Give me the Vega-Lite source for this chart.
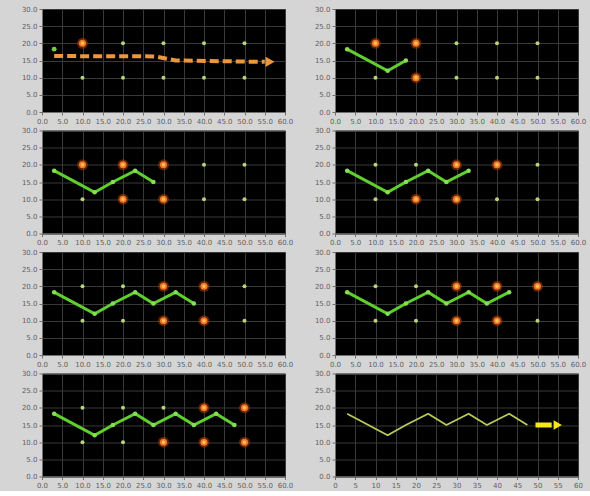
{
  "$schema": "https://vega.github.io/schema/vega-lite/v6.json",
  "background": "#d5d5d5",
  "padding": {"left": 20, "top": 4, "right": 8, "bottom": 2},
  "config": {
    "view": {"fill": "#000000", "stroke": "#8a8a8a", "strokeWidth": 1},
    "axis": {"title": null, "labelFontSize": 7, "labelFont": "DejaVu Sans", "labelColor": "#5f5f5f", "tickColor": "#707070", "tickSize": 3, "labelPadding": 2, "domainColor": "#707070", "gridColor": "#393939", "gridWidth": 1, "labelFlush": false, "labelOverlap": false}
  },
  "data": {"values": [
    {"p":1,"k":"dot","x":10,"y":20,"s":"o"},{"p":1,"k":"dot","x":10,"y":10,"s":"g"},{"p":1,"k":"dot","x":20,"y":20,"s":"g"},{"p":1,"k":"dot","x":20,"y":10,"s":"g"},{"p":1,"k":"dot","x":30,"y":20,"s":"g"},{"p":1,"k":"dot","x":30,"y":10,"s":"g"},{"p":1,"k":"dot","x":40,"y":20,"s":"g"},{"p":1,"k":"dot","x":40,"y":10,"s":"g"},{"p":1,"k":"dot","x":50,"y":20,"s":"g"},{"p":1,"k":"dot","x":50,"y":10,"s":"g"},
    {"p":2,"k":"dot","x":10,"y":20,"s":"o"},{"p":2,"k":"dot","x":10,"y":10,"s":"g"},{"p":2,"k":"dot","x":20,"y":20,"s":"o"},{"p":2,"k":"dot","x":20,"y":10,"s":"o"},{"p":2,"k":"dot","x":30,"y":20,"s":"g"},{"p":2,"k":"dot","x":30,"y":10,"s":"g"},{"p":2,"k":"dot","x":40,"y":20,"s":"g"},{"p":2,"k":"dot","x":40,"y":10,"s":"g"},{"p":2,"k":"dot","x":50,"y":20,"s":"g"},{"p":2,"k":"dot","x":50,"y":10,"s":"g"},
    {"p":3,"k":"dot","x":10,"y":20,"s":"o"},{"p":3,"k":"dot","x":10,"y":10,"s":"g"},{"p":3,"k":"dot","x":20,"y":20,"s":"o"},{"p":3,"k":"dot","x":20,"y":10,"s":"o"},{"p":3,"k":"dot","x":30,"y":20,"s":"o"},{"p":3,"k":"dot","x":30,"y":10,"s":"o"},{"p":3,"k":"dot","x":40,"y":20,"s":"g"},{"p":3,"k":"dot","x":40,"y":10,"s":"g"},{"p":3,"k":"dot","x":50,"y":20,"s":"g"},{"p":3,"k":"dot","x":50,"y":10,"s":"g"},
    {"p":4,"k":"dot","x":10,"y":20,"s":"g"},{"p":4,"k":"dot","x":10,"y":10,"s":"g"},{"p":4,"k":"dot","x":20,"y":20,"s":"g"},{"p":4,"k":"dot","x":20,"y":10,"s":"o"},{"p":4,"k":"dot","x":30,"y":20,"s":"o"},{"p":4,"k":"dot","x":30,"y":10,"s":"o"},{"p":4,"k":"dot","x":40,"y":20,"s":"o"},{"p":4,"k":"dot","x":40,"y":10,"s":"g"},{"p":4,"k":"dot","x":50,"y":20,"s":"g"},{"p":4,"k":"dot","x":50,"y":10,"s":"g"},
    {"p":5,"k":"dot","x":10,"y":20,"s":"g"},{"p":5,"k":"dot","x":10,"y":10,"s":"g"},{"p":5,"k":"dot","x":20,"y":20,"s":"g"},{"p":5,"k":"dot","x":20,"y":10,"s":"g"},{"p":5,"k":"dot","x":30,"y":20,"s":"o"},{"p":5,"k":"dot","x":30,"y":10,"s":"o"},{"p":5,"k":"dot","x":40,"y":20,"s":"o"},{"p":5,"k":"dot","x":40,"y":10,"s":"o"},{"p":5,"k":"dot","x":50,"y":20,"s":"g"},{"p":5,"k":"dot","x":50,"y":10,"s":"g"},
    {"p":6,"k":"dot","x":10,"y":20,"s":"g"},{"p":6,"k":"dot","x":10,"y":10,"s":"g"},{"p":6,"k":"dot","x":20,"y":20,"s":"g"},{"p":6,"k":"dot","x":20,"y":10,"s":"g"},{"p":6,"k":"dot","x":30,"y":20,"s":"o"},{"p":6,"k":"dot","x":30,"y":10,"s":"o"},{"p":6,"k":"dot","x":40,"y":20,"s":"o"},{"p":6,"k":"dot","x":40,"y":10,"s":"o"},{"p":6,"k":"dot","x":50,"y":20,"s":"o"},{"p":6,"k":"dot","x":50,"y":10,"s":"g"},
    {"p":7,"k":"dot","x":10,"y":20,"s":"g"},{"p":7,"k":"dot","x":10,"y":10,"s":"g"},{"p":7,"k":"dot","x":20,"y":20,"s":"g"},{"p":7,"k":"dot","x":20,"y":10,"s":"g"},{"p":7,"k":"dot","x":30,"y":20,"s":"g"},{"p":7,"k":"dot","x":30,"y":10,"s":"o"},{"p":7,"k":"dot","x":40,"y":20,"s":"o"},{"p":7,"k":"dot","x":40,"y":10,"s":"o"},{"p":7,"k":"dot","x":50,"y":20,"s":"o"},{"p":7,"k":"dot","x":50,"y":10,"s":"o"},
    {"p":1,"k":"path","i":1,"x":3,"y":18.3},
    {"p":1,"k":"arrow","i":1,"x":3,"y":16.3},{"p":1,"k":"arrow","i":2,"x":28,"y":16.2},{"p":1,"k":"arrow","i":3,"x":33,"y":15},{"p":1,"k":"arrow","i":4,"x":55,"y":14.6},
    {"p":1,"k":"tip","x":56.3,"y":14.6},
    {"p":2,"k":"path","i":1,"x":3,"y":18.3},{"p":2,"k":"path","i":2,"x":13,"y":12},{"p":2,"k":"path","i":3,"x":17.5,"y":15},
    {"p":3,"k":"path","i":1,"x":3,"y":18.3},{"p":3,"k":"path","i":2,"x":13,"y":12},{"p":3,"k":"path","i":3,"x":17.5,"y":15},{"p":3,"k":"path","i":4,"x":23,"y":18.3},{"p":3,"k":"path","i":5,"x":27.5,"y":15},
    {"p":4,"k":"path","i":1,"x":3,"y":18.3},{"p":4,"k":"path","i":2,"x":13,"y":12},{"p":4,"k":"path","i":3,"x":17.5,"y":15},{"p":4,"k":"path","i":4,"x":23,"y":18.3},{"p":4,"k":"path","i":5,"x":27.5,"y":15},{"p":4,"k":"path","i":6,"x":33,"y":18.3},
    {"p":5,"k":"path","i":1,"x":3,"y":18.3},{"p":5,"k":"path","i":2,"x":13,"y":12},{"p":5,"k":"path","i":3,"x":17.5,"y":15},{"p":5,"k":"path","i":4,"x":23,"y":18.3},{"p":5,"k":"path","i":5,"x":27.5,"y":15},{"p":5,"k":"path","i":6,"x":33,"y":18.3},{"p":5,"k":"path","i":7,"x":37.5,"y":15},
    {"p":6,"k":"path","i":1,"x":3,"y":18.3},{"p":6,"k":"path","i":2,"x":13,"y":12},{"p":6,"k":"path","i":3,"x":17.5,"y":15},{"p":6,"k":"path","i":4,"x":23,"y":18.3},{"p":6,"k":"path","i":5,"x":27.5,"y":15},{"p":6,"k":"path","i":6,"x":33,"y":18.3},{"p":6,"k":"path","i":7,"x":37.5,"y":15},{"p":6,"k":"path","i":8,"x":43,"y":18.3},
    {"p":7,"k":"path","i":1,"x":3,"y":18.3},{"p":7,"k":"path","i":2,"x":13,"y":12},{"p":7,"k":"path","i":3,"x":17.5,"y":15},{"p":7,"k":"path","i":4,"x":23,"y":18.3},{"p":7,"k":"path","i":5,"x":27.5,"y":15},{"p":7,"k":"path","i":6,"x":33,"y":18.3},{"p":7,"k":"path","i":7,"x":37.5,"y":15},{"p":7,"k":"path","i":8,"x":43,"y":18.3},{"p":7,"k":"path","i":9,"x":47.5,"y":15},
    {"p":8,"k":"path","i":1,"x":3,"y":18.3},{"p":8,"k":"path","i":2,"x":13,"y":12},{"p":8,"k":"path","i":3,"x":17.5,"y":15},{"p":8,"k":"path","i":4,"x":23,"y":18.3},{"p":8,"k":"path","i":5,"x":27.5,"y":15},{"p":8,"k":"path","i":6,"x":33,"y":18.3},{"p":8,"k":"path","i":7,"x":37.5,"y":15},{"p":8,"k":"path","i":8,"x":43,"y":18.3},{"p":8,"k":"path","i":9,"x":47.5,"y":15},
    {"p":8,"k":"yarrow","i":1,"x":49.5,"y":15},{"p":8,"k":"yarrow","i":2,"x":53.5,"y":15},
    {"p":8,"k":"ytip","x":55,"y":15}
  ]},
  "columns": 2,
  "spacing": {"row": 0.5, "column": 19},
  "concat": [
    {"width": 243, "height": 103, "transform": [{"filter": "datum.p==1"}],
     "encoding": {"x": {"field": "x", "type": "quantitative", "scale": {"domain": [0, 60], "nice": false}, "axis": {"values": [0,5,10,15,20,25,30,35,40,45,50,55,60], "format": ".1f"}},
                  "y": {"field": "y", "type": "quantitative", "scale": {"domain": [0, 30], "nice": false}, "axis": {"values": [0,5,10,15,20,25,30], "format": ".1f"}}},
     "layer": [
       {"transform": [{"filter": "datum.k=='dot' && datum.s=='o'"}], "mark": {"type": "circle", "size": 120, "color": "#c0400c", "opacity": 0.5}},
       {"transform": [{"filter": "datum.k=='dot'"}], "mark": {"type": "circle", "opacity": 1}, "encoding": {"color": {"field": "s", "type": "nominal", "scale": {"domain": ["g", "o"], "range": ["#b7d47c", "#f07a22"]}, "legend": null}, "size": {"field": "s", "type": "ordinal", "scale": {"domain": ["g", "o"], "range": [16, 50]}, "legend": null}}},
       {"transform": [{"filter": "datum.k=='dot' && datum.s=='o'"}], "mark": {"type": "circle", "size": 12, "color": "#ffc060", "opacity": 1}},
       {"transform": [{"filter": "datum.k=='path'"}], "mark": {"type": "circle", "size": 24, "color": "#6fd03e", "opacity": 1}},
       {"transform": [{"filter": "datum.k=='arrow'"}], "mark": {"type": "line", "color": "#ec963e", "strokeWidth": 4, "strokeDash": [9, 4]}, "encoding": {"order": {"field": "i"}}},
       {"transform": [{"filter": "datum.k=='tip'"}], "mark": {"type": "point", "shape": "triangle-right", "filled": true, "size": 110, "color": "#ec963e", "opacity": 1}}
     ]},
    {"width": 243, "height": 103, "transform": [{"filter": "datum.p==2"}],
     "encoding": {"x": {"field": "x", "type": "quantitative", "scale": {"domain": [0, 60], "nice": false}, "axis": {"values": [0,5,10,15,20,25,30,35,40,45,50,55,60], "format": ".1f"}},
                  "y": {"field": "y", "type": "quantitative", "scale": {"domain": [0, 30], "nice": false}, "axis": {"values": [0,5,10,15,20,25,30], "format": ".1f"}}},
     "layer": [
       {"transform": [{"filter": "datum.k=='dot' && datum.s=='o'"}], "mark": {"type": "circle", "size": 120, "color": "#c0400c", "opacity": 0.5}},
       {"transform": [{"filter": "datum.k=='dot'"}], "mark": {"type": "circle", "opacity": 1}, "encoding": {"color": {"field": "s", "type": "nominal", "scale": {"domain": ["g", "o"], "range": ["#b7d47c", "#f07a22"]}, "legend": null}, "size": {"field": "s", "type": "ordinal", "scale": {"domain": ["g", "o"], "range": [16, 50]}, "legend": null}}},
       {"transform": [{"filter": "datum.k=='dot' && datum.s=='o'"}], "mark": {"type": "circle", "size": 12, "color": "#ffc060", "opacity": 1}},
       {"transform": [{"filter": "datum.k=='path'"}], "mark": {"type": "line", "color": "#5fcf2e", "strokeWidth": 3}, "encoding": {"order": {"field": "i"}}},
       {"transform": [{"filter": "datum.k=='path'"}], "mark": {"type": "circle", "size": 20, "color": "#86e056", "opacity": 1}}
     ]},
    {"width": 243, "height": 103, "transform": [{"filter": "datum.p==3"}],
     "encoding": {"x": {"field": "x", "type": "quantitative", "scale": {"domain": [0, 60], "nice": false}, "axis": {"values": [0,5,10,15,20,25,30,35,40,45,50,55,60], "format": ".1f"}},
                  "y": {"field": "y", "type": "quantitative", "scale": {"domain": [0, 30], "nice": false}, "axis": {"values": [0,5,10,15,20,25,30], "format": ".1f"}}},
     "layer": [
       {"transform": [{"filter": "datum.k=='dot' && datum.s=='o'"}], "mark": {"type": "circle", "size": 120, "color": "#c0400c", "opacity": 0.5}},
       {"transform": [{"filter": "datum.k=='dot'"}], "mark": {"type": "circle", "opacity": 1}, "encoding": {"color": {"field": "s", "type": "nominal", "scale": {"domain": ["g", "o"], "range": ["#b7d47c", "#f07a22"]}, "legend": null}, "size": {"field": "s", "type": "ordinal", "scale": {"domain": ["g", "o"], "range": [16, 50]}, "legend": null}}},
       {"transform": [{"filter": "datum.k=='dot' && datum.s=='o'"}], "mark": {"type": "circle", "size": 12, "color": "#ffc060", "opacity": 1}},
       {"transform": [{"filter": "datum.k=='path'"}], "mark": {"type": "line", "color": "#5fcf2e", "strokeWidth": 3}, "encoding": {"order": {"field": "i"}}},
       {"transform": [{"filter": "datum.k=='path'"}], "mark": {"type": "circle", "size": 20, "color": "#86e056", "opacity": 1}}
     ]},
    {"width": 243, "height": 103, "transform": [{"filter": "datum.p==4"}],
     "encoding": {"x": {"field": "x", "type": "quantitative", "scale": {"domain": [0, 60], "nice": false}, "axis": {"values": [0,5,10,15,20,25,30,35,40,45,50,55,60], "format": ".1f"}},
                  "y": {"field": "y", "type": "quantitative", "scale": {"domain": [0, 30], "nice": false}, "axis": {"values": [0,5,10,15,20,25,30], "format": ".1f"}}},
     "layer": [
       {"transform": [{"filter": "datum.k=='dot' && datum.s=='o'"}], "mark": {"type": "circle", "size": 120, "color": "#c0400c", "opacity": 0.5}},
       {"transform": [{"filter": "datum.k=='dot'"}], "mark": {"type": "circle", "opacity": 1}, "encoding": {"color": {"field": "s", "type": "nominal", "scale": {"domain": ["g", "o"], "range": ["#b7d47c", "#f07a22"]}, "legend": null}, "size": {"field": "s", "type": "ordinal", "scale": {"domain": ["g", "o"], "range": [16, 50]}, "legend": null}}},
       {"transform": [{"filter": "datum.k=='dot' && datum.s=='o'"}], "mark": {"type": "circle", "size": 12, "color": "#ffc060", "opacity": 1}},
       {"transform": [{"filter": "datum.k=='path'"}], "mark": {"type": "line", "color": "#5fcf2e", "strokeWidth": 3}, "encoding": {"order": {"field": "i"}}},
       {"transform": [{"filter": "datum.k=='path'"}], "mark": {"type": "circle", "size": 20, "color": "#86e056", "opacity": 1}}
     ]},
    {"width": 243, "height": 103, "transform": [{"filter": "datum.p==5"}],
     "encoding": {"x": {"field": "x", "type": "quantitative", "scale": {"domain": [0, 60], "nice": false}, "axis": {"values": [0,5,10,15,20,25,30,35,40,45,50,55,60], "format": ".1f"}},
                  "y": {"field": "y", "type": "quantitative", "scale": {"domain": [0, 30], "nice": false}, "axis": {"values": [0,5,10,15,20,25,30], "format": ".1f"}}},
     "layer": [
       {"transform": [{"filter": "datum.k=='dot' && datum.s=='o'"}], "mark": {"type": "circle", "size": 120, "color": "#c0400c", "opacity": 0.5}},
       {"transform": [{"filter": "datum.k=='dot'"}], "mark": {"type": "circle", "opacity": 1}, "encoding": {"color": {"field": "s", "type": "nominal", "scale": {"domain": ["g", "o"], "range": ["#b7d47c", "#f07a22"]}, "legend": null}, "size": {"field": "s", "type": "ordinal", "scale": {"domain": ["g", "o"], "range": [16, 50]}, "legend": null}}},
       {"transform": [{"filter": "datum.k=='dot' && datum.s=='o'"}], "mark": {"type": "circle", "size": 12, "color": "#ffc060", "opacity": 1}},
       {"transform": [{"filter": "datum.k=='path'"}], "mark": {"type": "line", "color": "#5fcf2e", "strokeWidth": 3}, "encoding": {"order": {"field": "i"}}},
       {"transform": [{"filter": "datum.k=='path'"}], "mark": {"type": "circle", "size": 20, "color": "#86e056", "opacity": 1}}
     ]},
    {"width": 243, "height": 103, "transform": [{"filter": "datum.p==6"}],
     "encoding": {"x": {"field": "x", "type": "quantitative", "scale": {"domain": [0, 60], "nice": false}, "axis": {"values": [0,5,10,15,20,25,30,35,40,45,50,55,60], "format": ".1f"}},
                  "y": {"field": "y", "type": "quantitative", "scale": {"domain": [0, 30], "nice": false}, "axis": {"values": [0,5,10,15,20,25,30], "format": ".1f"}}},
     "layer": [
       {"transform": [{"filter": "datum.k=='dot' && datum.s=='o'"}], "mark": {"type": "circle", "size": 120, "color": "#c0400c", "opacity": 0.5}},
       {"transform": [{"filter": "datum.k=='dot'"}], "mark": {"type": "circle", "opacity": 1}, "encoding": {"color": {"field": "s", "type": "nominal", "scale": {"domain": ["g", "o"], "range": ["#b7d47c", "#f07a22"]}, "legend": null}, "size": {"field": "s", "type": "ordinal", "scale": {"domain": ["g", "o"], "range": [16, 50]}, "legend": null}}},
       {"transform": [{"filter": "datum.k=='dot' && datum.s=='o'"}], "mark": {"type": "circle", "size": 12, "color": "#ffc060", "opacity": 1}},
       {"transform": [{"filter": "datum.k=='path'"}], "mark": {"type": "line", "color": "#5fcf2e", "strokeWidth": 3}, "encoding": {"order": {"field": "i"}}},
       {"transform": [{"filter": "datum.k=='path'"}], "mark": {"type": "circle", "size": 20, "color": "#86e056", "opacity": 1}}
     ]},
    {"width": 243, "height": 103, "transform": [{"filter": "datum.p==7"}],
     "encoding": {"x": {"field": "x", "type": "quantitative", "scale": {"domain": [0, 60], "nice": false}, "axis": {"values": [0,5,10,15,20,25,30,35,40,45,50,55,60], "format": ".1f"}},
                  "y": {"field": "y", "type": "quantitative", "scale": {"domain": [0, 30], "nice": false}, "axis": {"values": [0,5,10,15,20,25,30], "format": ".1f"}}},
     "layer": [
       {"transform": [{"filter": "datum.k=='dot' && datum.s=='o'"}], "mark": {"type": "circle", "size": 120, "color": "#c0400c", "opacity": 0.5}},
       {"transform": [{"filter": "datum.k=='dot'"}], "mark": {"type": "circle", "opacity": 1}, "encoding": {"color": {"field": "s", "type": "nominal", "scale": {"domain": ["g", "o"], "range": ["#b7d47c", "#f07a22"]}, "legend": null}, "size": {"field": "s", "type": "ordinal", "scale": {"domain": ["g", "o"], "range": [16, 50]}, "legend": null}}},
       {"transform": [{"filter": "datum.k=='dot' && datum.s=='o'"}], "mark": {"type": "circle", "size": 12, "color": "#ffc060", "opacity": 1}},
       {"transform": [{"filter": "datum.k=='path'"}], "mark": {"type": "line", "color": "#5fcf2e", "strokeWidth": 3}, "encoding": {"order": {"field": "i"}}},
       {"transform": [{"filter": "datum.k=='path'"}], "mark": {"type": "circle", "size": 20, "color": "#86e056", "opacity": 1}}
     ]},
    {"width": 243, "height": 103, "transform": [{"filter": "datum.p==8"}],
     "encoding": {"x": {"field": "x", "type": "quantitative", "scale": {"domain": [0, 60], "nice": false}, "axis": {"values": [0,5,10,15,20,25,30,35,40,45,50,55,60], "format": "d"}},
                  "y": {"field": "y", "type": "quantitative", "scale": {"domain": [0, 30], "nice": false}, "axis": {"values": [0,5,10,15,20,25,30], "format": ".1f"}}},
     "layer": [
       {"transform": [{"filter": "datum.k=='path'"}], "mark": {"type": "line", "color": "#b9c95a", "strokeWidth": 1.8}, "encoding": {"order": {"field": "i"}}},
       {"transform": [{"filter": "datum.k=='yarrow'"}], "mark": {"type": "line", "color": "#f7e61c", "strokeWidth": 5}, "encoding": {"order": {"field": "i"}}},
       {"transform": [{"filter": "datum.k=='ytip'"}], "mark": {"type": "point", "shape": "triangle-right", "filled": true, "size": 90, "color": "#f7e61c", "opacity": 1}}
     ]}
  ]
}
